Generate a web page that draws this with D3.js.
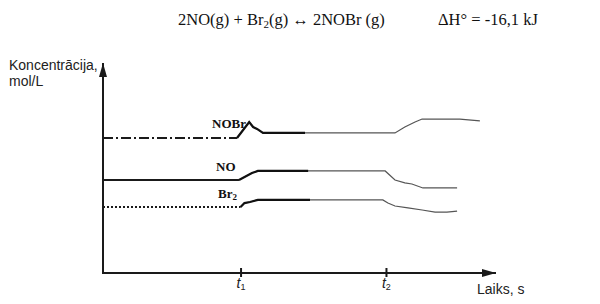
<!DOCTYPE html>
<html>
<head>
<meta charset="utf-8">
<script src="https://cdn.jsdelivr.net/npm/d3@7"></script>
<style>
  body { margin: 0; background: #fff; }
</style>
</head>
<body>
<script>
// time axis ticks (arbitrary time units)
var tickTimes = [35, 72]
var tickNames = ["1", "2"]

// concentration curves (arbitrary units)
var namesSeries = ["NOBr", "NO", "Br2"]
var timesNOBr = [0, 34.1, 37.2, 38.2, 39.2, 40.7, 74.3, 76.8, 79.4, 81.2, 90.8, 95.9]
var concNOBr  = [6.43, 6.43, 7.19, 6.95, 6.86, 6.67, 6.67, 6.95, 7.19, 7.33, 7.33, 7.24]
var timesNO   = [0, 34.6, 37.9, 39.4, 71.8, 74.3, 76.8, 78.6, 81.4, 90.1]
var concNO    = [4.43, 4.43, 4.76, 4.86, 4.86, 4.43, 4.29, 4.24, 4.05, 4.05]
var timesBr2  = [0, 35, 36, 37.4, 39.4, 71.2, 72.5, 74.3, 77.6, 81.2, 84.5, 87.5, 90.1]
var concBr2   = [3.14, 3.14, 3.33, 3.38, 3.48, 3.48, 3.33, 3.19, 3.10, 3.0, 2.90, 2.90, 2.95]
// time where the heavy stroke turns into the thin one
var boldEnd = [51.4, 52.2, 52.7]

var series = [
    {name: "NOBr", t: timesNOBr, c: concNOBr, dash: "10,3,2,3"},
    {name: "NO",   t: timesNO,   c: concNO,   dash: null},
    {name: "Br2",  t: timesBr2,  c: concBr2,  dash: "2,2"}
].map((s, i) => ({...s, pts: s.t.map((t, j) => [t, s.c[j]]), bold: boldEnd[i]}))

var width = 600, height = 304
var xScale = d3.scaleLinear().domain([0, 100]).range([103, 496])
var yScale = d3.scaleLinear().domain([0, 10]).range([273, 63])

const svg = d3.select("body").append("svg")
    .attr("width", width)
    .attr("height", height)

var defs = svg.append("defs")
defs.append("marker")
    .attr("id", "arrow")
    .attr("viewBox", "0 0 14 8")
    .attr("refX", 14).attr("refY", 4)
    .attr("markerWidth", 14).attr("markerHeight", 8)
    .attr("markerUnits", "userSpaceOnUse")
    .attr("orient", "auto")
  .append("path")
    .attr("d", "M0,0L14,4L0,8Z")
    .attr("fill", "#1a1a1a")

// title
var title = svg.append("text")
    .attr("x", 178).attr("y", 25)
    .attr("font-family", "Liberation Serif, serif")
    .attr("font-size", 16.5)
    .attr("fill", "#111")
title.append("tspan").text("2NO(g) + Br")
title.append("tspan").attr("font-size", 11).attr("dy", 3).text("2")
title.append("tspan").attr("dy", -3).text("(g) \u2194 2NOBr (g)")
svg.append("text")
    .attr("x", 438).attr("y", 25)
    .attr("font-family", "Liberation Serif, serif")
    .attr("font-size", 16.5)
    .attr("fill", "#111")
    .text("\u0394H\u00b0 = -16,1 kJ")

// axes
var xAxis = g => g
    .attr("transform", `translate(0,${yScale(0)})`)
    .call(d3.axisBottom(xScale).tickValues(tickTimes).tickSize(4).tickFormat(""))
    .call(g => g.select(".domain").remove())
    .call(g => g.selectAll(".tick line").attr("y1", -5).attr("stroke", "#1a1a1a").attr("stroke-width", 2))
svg.append("g").call(xAxis)

svg.append("line")
    .attr("x1", xScale(0)).attr("x2", xScale(100))
    .attr("y1", yScale(0)).attr("y2", yScale(0))
    .attr("stroke", "#1a1a1a").attr("stroke-width", 2)
    .attr("marker-end", "url(#arrow)")
svg.append("line")
    .attr("x1", xScale(0)).attr("x2", xScale(0))
    .attr("y1", yScale(0) + 1).attr("y2", yScale(10))
    .attr("stroke", "#1a1a1a").attr("stroke-width", 2)
    .attr("marker-end", "url(#arrow)")

// tick labels t1, t2
tickTimes.forEach((t, i) => {
    var lab = svg.append("text")
        .attr("x", xScale(t) - 4).attr("y", 288)
        .attr("font-family", "Liberation Sans, Arial, sans-serif")
        .attr("font-size", 14)
        .attr("fill", "#222")
    lab.append("tspan").attr("font-style", "italic").text("t")
    lab.append("tspan").attr("font-size", 9).attr("dy", 2).text(tickNames[i])
})

svg.append("text")
    .attr("x", 477).attr("y", 294)
    .attr("font-family", "Liberation Sans, Arial, sans-serif")
    .attr("font-size", 14)
    .attr("fill", "#222")
    .text("Laiks, s")

var ylab = svg.append("text")
    .attr("font-family", "Liberation Sans, Arial, sans-serif")
    .attr("font-size", 14)
    .attr("fill", "#222")
ylab.append("tspan").attr("x", 9).attr("y", 70).text("Koncentr\u0101cija,")
ylab.append("tspan").attr("x", 9).attr("y", 86).text("mol/L")

// curves
var line = d3.line().x(d => xScale(d[0])).y(d => yScale(d[1]))

series.forEach((s, i) => {
    var pre = s.pts.filter(d => d[0] <= tickTimes[0])
    var post = s.pts.slice(pre.length - 1)
    defs.append("clipPath").attr("id", "bold" + i)
      .append("rect")
        .attr("x", 0).attr("y", 0)
        .attr("width", xScale(s.bold)).attr("height", height)

    svg.append("path")
        .attr("d", line(pre))
        .attr("fill", "none")
        .attr("stroke", "#1a1a1a").attr("stroke-width", 2)
        .attr("stroke-dasharray", s.dash)
    svg.append("path")
        .attr("d", line(post))
        .attr("fill", "none")
        .attr("stroke", "#555").attr("stroke-width", 1.2)
    svg.append("path")
        .attr("d", line(post))
        .attr("fill", "none")
        .attr("stroke", "#111").attr("stroke-width", 2.2)
        .attr("clip-path", `url(#bold${i})`)
})

// curve labels
var labelPos = [[212, 128], [216, 171], [218, 198]]
namesSeries.forEach((n, i) => {
    var t = svg.append("text")
        .attr("x", labelPos[i][0]).attr("y", labelPos[i][1])
        .attr("font-family", "Liberation Serif, serif")
        .attr("font-weight", "bold")
        .attr("font-size", 13)
        .attr("fill", "#111")
    if (n === "Br2") {
        t.append("tspan").text("Br")
        t.append("tspan").attr("font-size", 9).attr("dy", 2).text("2")
    } else {
        t.text(n)
    }
})
</script>
</body>
</html>
